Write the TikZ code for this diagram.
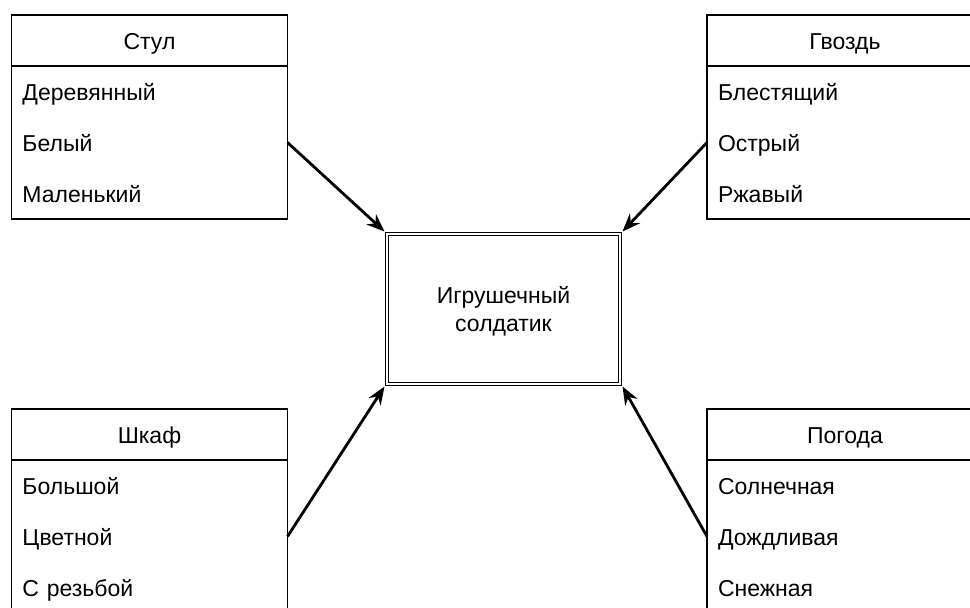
\documentclass[tikz,border=0pt]{standalone}
\usepackage{fontspec}
\setmainfont{Liberation Sans}
\usepackage{tikz}
\usetikzlibrary{arrows.meta, positioning}

\begin{document}
\begin{tikzpicture}[x=1pt, y=-1pt, node distance=0pt, font=\fontsize{23}{28}\selectfont]
    % Define styles
    \tikzstyle{head} = [rectangle, minimum width=276pt, minimum height=51pt, draw=black, line width=1.2pt, outer sep=0pt, text height=20pt, text depth=2pt, text centered]
    \tikzstyle{body} = [rectangle, minimum width=276pt, minimum height=153pt, draw=black, line width=1.2pt, outer sep=0pt]
    \tikzstyle{row} = [rectangle, minimum width=276pt, minimum height=51pt, text width=254pt, inner sep=11pt, text height=20pt, text depth=2pt, align=left, outer sep=0pt]
    \tikzstyle{toy} = [rectangle, draw=black, double, double distance=2.5pt, line width=1pt, minimum width=233pt, minimum height=150pt, align=center, text depth=0pt, outer sep=2.5pt]
    \tikzstyle{arrow} = [line width=2.8pt, -{Stealth[length=18pt, width=14pt]}]

    \useasboundingbox (0,0) rectangle (970,608);
    \clip (0,0) rectangle (970,608);

    % Nodes
    \node (soldier) [toy] at (503.5, 309) {Игрушечный\\солдатик};

    \node (stul) [head] at (149.5, 40.5) {Стул};
    \node (stulbody) [body, below=of stul] {};
    \node (stul1) [row, below=of stul] {Деревянный};
    \node (stul2) [row, below=of stul1] {Белый};
    \node (stul3) [row, below=of stul2] {Маленький};

    \node (gvozd) [head] at (845, 40.5) {Гвоздь};
    \node (gvozdbody) [body, below=of gvozd] {};
    \node (gvozd1) [row, below=of gvozd] {Блестящий};
    \node (gvozd2) [row, below=of gvozd1] {Острый};
    \node (gvozd3) [row, below=of gvozd2] {Ржавый};

    \node (shkaf) [head] at (149.5, 434.5) {Шкаф};
    \node (shkafbody) [body, below=of shkaf] {};
    \node (shkaf1) [row, below=of shkaf] {Большой};
    \node (shkaf2) [row, below=of shkaf1] {Цветной};
    \node (shkaf3) [row, below=of shkaf2] {С резьбой};

    \node (pogoda) [head] at (845, 434.5) {Погода};
    \node (pogodabody) [body, below=of pogoda] {};
    \node (pogoda1) [row, below=of pogoda] {Солнечная};
    \node (pogoda2) [row, below=of pogoda1] {Дождливая};
    \node (pogoda3) [row, below=of pogoda2] {Снежная};

    % Arrows
    \draw [arrow] (stul2.east) -- (soldier.north west);
    \draw [arrow] (gvozd2.west) -- (soldier.north east);
    \draw [arrow] (shkaf2.east) -- (soldier.south west);
    \draw [arrow] (pogoda2.west) -- (soldier.south east);
\end{tikzpicture}
\end{document}
